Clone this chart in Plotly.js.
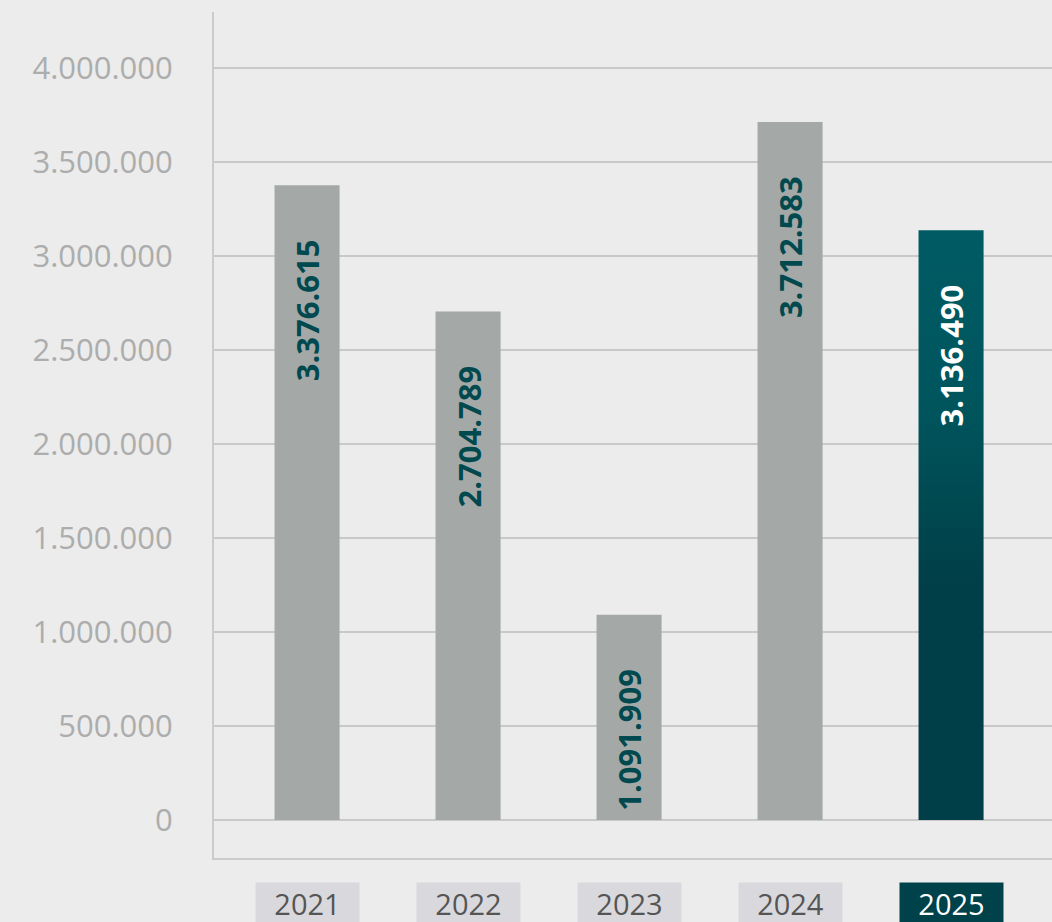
<!DOCTYPE html>
<html>
<head>
<meta charset="utf-8">
<script src="https://cdn.plot.ly/plotly-3.0.1.min.js"></script>
<style>
html,body{margin:0;padding:0;background:#ececec;}
#chart{width:1052px;height:922px;}
</style>
</head>
<body>
<div id="chart"></div>
<script>
const years = ['2021', '2022', '2023', '2024', '2025'];
const values = [3376615, 2704789, 1091909, 3712583, 3136490];
const barColors = ['#a4a8a6', '#a4a8a6', '#a4a8a6', '#a4a8a6', '#014b53'];
const labelColors = ['#00494f', '#00494f', '#00494f', '#00494f', '#ffffff'];
const boxColors = ['#d9d9dd', '#d9d9dd', '#d9d9dd', '#d9d9dd', '#00424a'];
const boxTextColors = ['#555555', '#555555', '#555555', '#555555', '#ffffff'];

function fmt(v) {
  return String(v).replace(/\B(?=(\d{3})+(?!\d))/g, '.');
}

const trace = {
  type: 'bar',
  x: years,
  y: values,
  marker: {color: barColors, line: {width: 0}},
  width: 0.404,
  hoverinfo: 'none'
};

const annotations = [];
years.forEach((yr, i) => {
  annotations.push({
    x: i, y: values[i], xref: 'x', yref: 'y',
    text: fmt(values[i]),
    textangle: -90,
    showarrow: false,
    xanchor: 'center', yanchor: 'top',
    yshift: -52,
    font: {family: 'Open Sans', size: 31, color: labelColors[i], weight: 700}
  });
  annotations.push({
    x: i, y: 0, xref: 'x', yref: 'paper',
    text: yr,
    showarrow: false,
    xanchor: 'center', yanchor: 'top',
    yshift: -24,
    width: 103, height: 40,
    valign: 'middle',
    bgcolor: boxColors[i],
    borderpad: 0,
    font: {family: 'Open Sans', size: 29, color: boxTextColors[i]}
  });
});

const layout = {
  width: 1052, height: 922,
  margin: {l: 214, r: 0, t: 12, b: 64, pad: 0},
  paper_bgcolor: '#ececec',
  plot_bgcolor: '#ececec',
  separators: ',.',
  showlegend: false,
  xaxis: {
    type: 'category',
    range: [-0.578, 4.627],
    showline: true, linecolor: '#cbcbcb', linewidth: 2,
    showticklabels: false, showgrid: false, zeroline: false,
    ticks: '', fixedrange: true
  },
  yaxis: {
    range: [-202000, 4298000],
    tick0: 0, dtick: 500000,
    tickformat: ',d',
    showline: true, linecolor: '#cbcbcb', linewidth: 2,
    gridcolor: '#c9c9c9', gridwidth: 2,
    zeroline: false,
    ticks: '',
    ticklabelstandoff: 33,
    tickfont: {family: 'Open Sans', size: 31, color: '#adadad'},
    fixedrange: true
  },
  annotations: annotations
};

Plotly.newPlot('chart', [trace], layout, {staticPlot: true, displayModeBar: false}).then(gd => {
  const svg = gd.querySelector('.main-svg');
  let defs = svg.querySelector('defs');
  const ns = 'http://www.w3.org/2000/svg';
  if (!defs) { defs = document.createElementNS(ns, 'defs'); svg.insertBefore(defs, svg.firstChild); }
  const grad = document.createElementNS(ns, 'linearGradient');
  grad.setAttribute('id', 'grad2025');
  grad.setAttribute('x1', '0'); grad.setAttribute('y1', '0');
  grad.setAttribute('x2', '0'); grad.setAttribute('y2', '1');
  [['0', '#005b64'], ['0.3', '#00555d'], ['0.6', '#003f47'], ['1', '#003f47']].forEach(s => {
    const st = document.createElementNS(ns, 'stop');
    st.setAttribute('offset', s[0]);
    st.setAttribute('stop-color', s[1]);
    grad.appendChild(st);
  });
  defs.appendChild(grad);
  const pts = gd.querySelectorAll('.barlayer .point path');
  const last = pts[pts.length - 1];
  if (last) last.style.fill = 'url(#grad2025)';
});
</script>
</body>
</html>
